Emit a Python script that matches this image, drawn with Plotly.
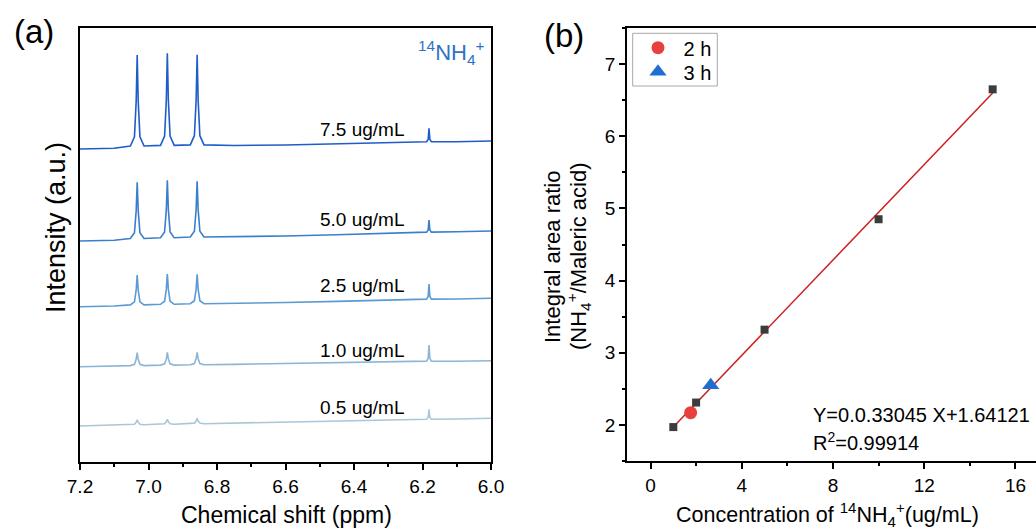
import plotly.graph_objects as go

W, H = 1036, 531

# ---------------- Panel (a) data: 1H NMR spectra (intensity in a.u.) ----------------
shift_ppm = [7.20, 7.10, 7.053, 7.041, 7.036, 7.033, 7.030, 7.025, 7.013,
             6.965, 6.953, 6.948, 6.945, 6.942, 6.937, 6.925,
             6.878, 6.866, 6.861, 6.858, 6.855, 6.850, 6.838,
             6.75, 6.60, 6.45, 6.30,
             6.188, 6.1835, 6.181, 6.1785, 6.174,
             6.10, 6.00]

int_75 = [313.0, 313.7, 316.0, 325.3, 360.6, 407.1, 360.6, 325.3, 316.0,
          316.6, 326.0, 361.7, 408.7, 361.7, 326.0, 316.6,
          317.1, 326.3, 361.3, 407.3, 361.3, 326.3, 317.1,
          316.5, 317.0, 318.0, 319.0,
          320.2, 322.6, 333.8, 322.6, 320.2,
          320.3, 321.0]
int_50 = [221.0, 221.8, 223.5, 229.3, 251.1, 279.7, 251.1, 229.3, 223.5,
          224.3, 230.1, 252.4, 281.7, 252.4, 230.1, 224.3,
          225.0, 230.7, 252.3, 280.7, 252.3, 230.7, 225.0,
          225.2, 226.0, 227.3, 228.5,
          229.9, 232.0, 242.0, 232.0, 229.9,
          230.2, 231.0]
int_25 = [155.3, 156.0, 157.1, 160.2, 171.8, 187.0, 171.8, 160.2, 157.1,
          157.7, 160.8, 172.6, 188.0, 172.6, 160.8, 157.7,
          158.3, 161.3, 172.7, 187.7, 172.7, 161.3, 158.3,
          158.6, 159.5, 160.6, 161.6,
          162.9, 165.5, 178.0, 165.5, 162.9,
          163.0, 163.7]
int_10 = [95.3, 95.8, 96.4, 97.7, 102.7, 109.3, 102.7, 97.7, 96.4,
          96.9, 98.2, 103.1, 109.6, 103.1, 98.2, 96.9,
          97.3, 98.5, 103.3, 109.6, 103.3, 98.5, 97.3,
          97.6, 98.3, 99.1, 99.8,
          100.9, 103.7, 117.0, 103.7, 100.9,
          100.8, 101.3]
int_05 = [36.0, 36.6, 37.2, 37.7, 39.6, 42.1, 39.6, 37.7, 37.2,
          37.7, 38.2, 40.1, 42.6, 40.1, 38.2, 37.7,
          38.3, 38.9, 41.0, 43.7, 41.0, 38.9, 38.3,
          38.9, 39.8, 40.8, 41.8,
          42.8, 44.5, 52.7, 44.5, 42.8,
          43.0, 43.7]

spec_labels = ["7.5 ug/mL", "5.0 ug/mL", "2.5 ug/mL", "1.0 ug/mL", "0.5 ug/mL"]
spec_series = [int_75, int_50, int_25, int_10, int_05]
spec_colors = ["#1f5ec8", "#3a7fcc", "#5b9bd3", "#8db6d6", "#a9c7db"]

ppm_ticks = [7.2, 7.0, 6.8, 6.6, 6.4, 6.2, 6.0]

# ---------------- Panel (b) data: calibration ----------------
conc = [1, 2, 5, 10, 15]
ratio = [1.97, 2.31, 3.32, 4.85, 6.65]
fit_x = [1, 15]
fit_y = [1.97, 6.60]
s2h_x, s2h_y = [1.76], [2.17]
s3h_x, s3h_y = [2.64], [2.55]

FONT = "Liberation Sans, Arial, sans-serif"

def px(x):
    return x / W

def py(y):
    return 1 - y / H

fig = go.Figure()

for lab, ys, col in zip(spec_labels, spec_series, spec_colors):
    fig.add_trace(go.Scatter(x=shift_ppm, y=ys, mode="lines", line=dict(color=col, width=1.6),
                             xaxis="x", yaxis="y", showlegend=False, name=lab))

fig.add_trace(go.Scatter(x=fit_x, y=fit_y, mode="lines", line=dict(color="#cc2020", width=1.5),
                         xaxis="x2", yaxis="y2", showlegend=False))
fig.add_trace(go.Scatter(x=conc, y=ratio, mode="markers",
                         marker=dict(symbol="square", size=8, color="#3c3c3c"),
                         xaxis="x2", yaxis="y2", showlegend=False))
fig.add_trace(go.Scatter(x=s2h_x, y=s2h_y, mode="markers", name="\u00a02 h", legend="legend",
                         marker=dict(symbol="circle", size=13, color="#e8403f"),
                         xaxis="x2", yaxis="y2"))
fig.add_trace(go.Scatter(x=s3h_x, y=s3h_y, mode="markers", name="\u00a03 h", legend="legend2",
                         marker=dict(symbol="triangle-up", size=15, color="#1f6fd1"),
                         xaxis="x2", yaxis="y2"))

axis_common = dict(showline=True, linecolor="black", linewidth=1.5, showgrid=False,
                   zeroline=False, automargin=False,
                   tickfont=dict(family=FONT, size=19, color="black"))

legend_common = dict(xanchor="left", yanchor="middle", borderwidth=0,
                     bgcolor="rgba(0,0,0,0)",
                     font=dict(family=FONT, size=20, color="black"), itemsizing="trace")

fig.update_layout(
    width=W, height=H,
    margin=dict(l=0, r=0, t=0, b=0),
    paper_bgcolor="white", plot_bgcolor="white",
    font=dict(family=FONT, color="black"),
    xaxis=dict(domain=[px(80), px(491)], anchor="y", range=[7.2, 6.0], mirror=True,
               tickvals=ppm_ticks, ticktext=[f"{v:.1f}" for v in ppm_ticks],
               ticks="outside", ticklen=6, tickwidth=1.5, tickcolor="black",
               minor=dict(dtick=0.1, tick0=6.0, ticks="outside", ticklen=3.5, tickwidth=1.5, tickcolor="black"),
               **axis_common),
    yaxis=dict(domain=[py(462), py(28)], anchor="x", range=[0, 434], mirror=True,
               showticklabels=False, ticks="", **axis_common),
    xaxis2=dict(domain=[px(627), 1.0], anchor="y2", range=[-1.03, 16.9], mirror=True,
                tick0=0, dtick=4, ticks="outside", ticklen=6, tickwidth=1.5, tickcolor="black",
                minor=dict(dtick=2, tick0=0, ticks="outside", ticklen=3.5, tickwidth=1.5, tickcolor="black"),
                **axis_common),
    yaxis2=dict(domain=[py(461), py(28)], anchor="x2", range=[1.5, 7.5], mirror=False,
                tick0=0, dtick=1, ticks="outside", ticklen=6, tickwidth=1.5, tickcolor="black",
                minor=dict(dtick=0.5, tick0=0, ticks="outside", ticklen=3.5, tickwidth=1.5, tickcolor="black"),
                **axis_common),
    legend=dict(x=px(638), y=py(47.7), **legend_common),
    legend2=dict(x=px(638), y=py(71.7), **legend_common),
    shapes=[dict(type="rect", xref="paper", yref="paper",
                 x0=px(632.7), x1=px(717.3), y0=py(86), y1=py(33.3),
                 line=dict(color="#a8a8a8", width=1), fillcolor="rgba(0,0,0,0)", layer="above")],
)

ann = []
def add_text(text, x, y, size, xanchor="center", yanchor="middle", angle=0, color="black"):
    ann.append(dict(text=text, x=px(x), y=py(y), xref="paper", yref="paper",
                    xanchor=xanchor, yanchor=yanchor, textangle=angle, showarrow=False,
                    font=dict(family=FONT, size=size, color=color)))

add_text("(a)", 12, 32, 33, xanchor="left")
add_text("(b)", 542, 35, 33, xanchor="left")
add_text("Intensity (a.u.)", 56, 228, 27, angle=-90)
add_text("Chemical shift (ppm)", 286, 515, 23)
add_text("Integral area ratio", 553, 257, 22, angle=-90)
add_text("(NH<sub>4</sub><sup>+</sup>/Maleric acid)", 579, 257, 22, angle=-90)
add_text("Concentration of <sup>14</sup>NH<sub>4</sub><sup>+</sup>(ug/mL)", 827, 514, 21.5)
add_text("Y=0.0.33045 X+1.64121", 811, 415, 20, xanchor="left")
add_text("R<sup>2</sup>=0.99914", 811, 441, 20, xanchor="left")
add_text("<sup>14</sup>NH<sub>4</sub><sup>+</sup>", 416, 52, 22, xanchor="left", color="#2f72c8")

label_y = [129, 219, 285.5, 350, 407]
for lab, yy in zip(spec_labels, label_y):
    add_text(lab, 318, yy, 19, xanchor="left")

fig.update_layout(annotations=ann)

fig.write_html("out.html")
